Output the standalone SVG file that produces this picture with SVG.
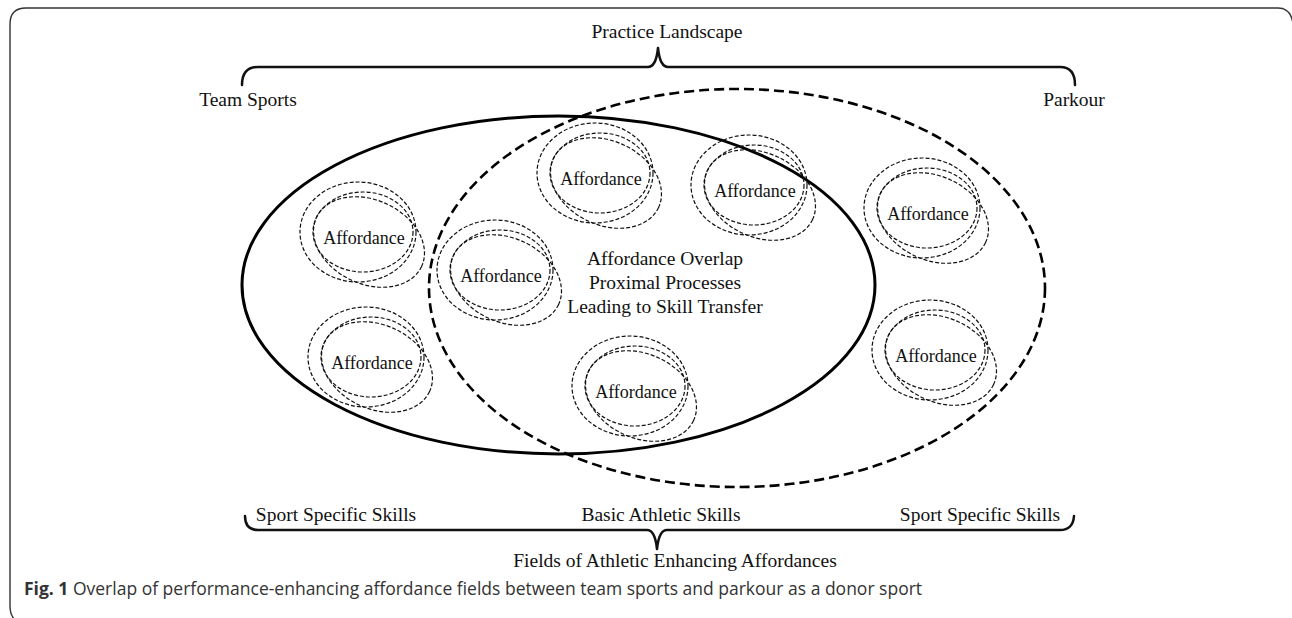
<svg xmlns="http://www.w3.org/2000/svg" width="1292" height="618" viewBox="0 0 1292 618">
<style>
.lbl{font-family:"Liberation Serif","Times New Roman",serif;font-size:19.5px;fill:#111;text-anchor:middle}
.aff{font-family:"Liberation Serif","Times New Roman",serif;font-size:18px;fill:#111;text-anchor:middle}
.cap{font-family:"Open Sans","Noto Sans",sans-serif;font-size:17.5px;fill:#333}
.sm{fill:none;stroke:#111;stroke-width:1.2;stroke-dasharray:4 2}
.brace{fill:none;stroke:#111;stroke-width:2.5;stroke-linecap:round;stroke-linejoin:round}
</style>
<defs>
<g id="cluster">
<ellipse class="sm" cx="-1" cy="-6" rx="50" ry="40"/>
<ellipse class="sm" cx="-6" cy="-6" rx="58" ry="50"/>
<ellipse class="sm" cx="5" cy="4" rx="58" ry="42" transform="rotate(25 5 4)"/>
</g>
</defs>
<rect width="1292" height="618" fill="#fff"/>
<path d="M 22 624 Q 10 620 10 606 L 10 24 Q 10 8 26 8 L 1278 8 Q 1291 8 1293 24" fill="none" stroke="#333" stroke-width="1.4"/>

<g id="braces">
<path class="brace" d="M 242 85 Q 242 67 258 67 L 648 67 Q 656 67 658 48 Q 660 67 668 67 L 1060 67 Q 1075 67 1075 85"/>
<path class="brace" d="M 245 516 Q 245 530 258 530 L 647 530 Q 655 530 657 549 Q 659 530 667 530 L 1060 530 Q 1073 530 1074 516"/>
</g>

<g id="fields">
<ellipse id="team-sports-field" cx="558.5" cy="285" rx="316.5" ry="169" fill="none" stroke="#000" stroke-width="3"/>
<ellipse id="parkour-field" cx="737" cy="288" rx="308" ry="199" fill="none" stroke="#000" stroke-width="2.6" stroke-dasharray="10 5"/>
</g>

<g id="labels">
<text class="lbl" x="667" y="38">Practice Landscape</text>
<text class="lbl" x="248" y="106">Team Sports</text>
<text class="lbl" x="1074" y="106">Parkour</text>
<text class="lbl" x="665" y="265">Affordance Overlap</text>
<text class="lbl" x="665" y="289">Proximal Processes</text>
<text class="lbl" x="665" y="313">Leading to Skill Transfer</text>
<text class="lbl" x="336" y="521">Sport Specific Skills</text>
<text class="lbl" x="661" y="521">Basic Athletic Skills</text>
<text class="lbl" x="980" y="521">Sport Specific Skills</text>
<text class="lbl" x="675" y="567">Fields of Athletic Enhancing Affordances</text>
</g>

<g id="aff1"><use href="#cluster" x="364" y="238"/><text class="aff" x="364" y="244">Affordance</text></g>
<g id="aff2"><use href="#cluster" x="372" y="363"/><text class="aff" x="372" y="369">Affordance</text></g>
<g id="aff3"><use href="#cluster" x="501" y="276"/><text class="aff" x="501" y="282">Affordance</text></g>
<g id="aff4"><use href="#cluster" x="601" y="179"/><text class="aff" x="601" y="185">Affordance</text></g>
<g id="aff5"><use href="#cluster" x="755" y="191"/><text class="aff" x="755" y="197">Affordance</text></g>
<g id="aff6"><use href="#cluster" x="636" y="392"/><text class="aff" x="636" y="398">Affordance</text></g>
<g id="aff7"><use href="#cluster" x="928" y="214"/><text class="aff" x="928" y="220">Affordance</text></g>
<g id="aff8"><use href="#cluster" x="936" y="356"/><text class="aff" x="936" y="362">Affordance</text></g>

<text class="cap" x="24" y="595"><tspan font-weight="bold">Fig. 1</tspan> Overlap of performance-enhancing affordance fields between team sports and parkour as a donor sport</text>
</svg>
